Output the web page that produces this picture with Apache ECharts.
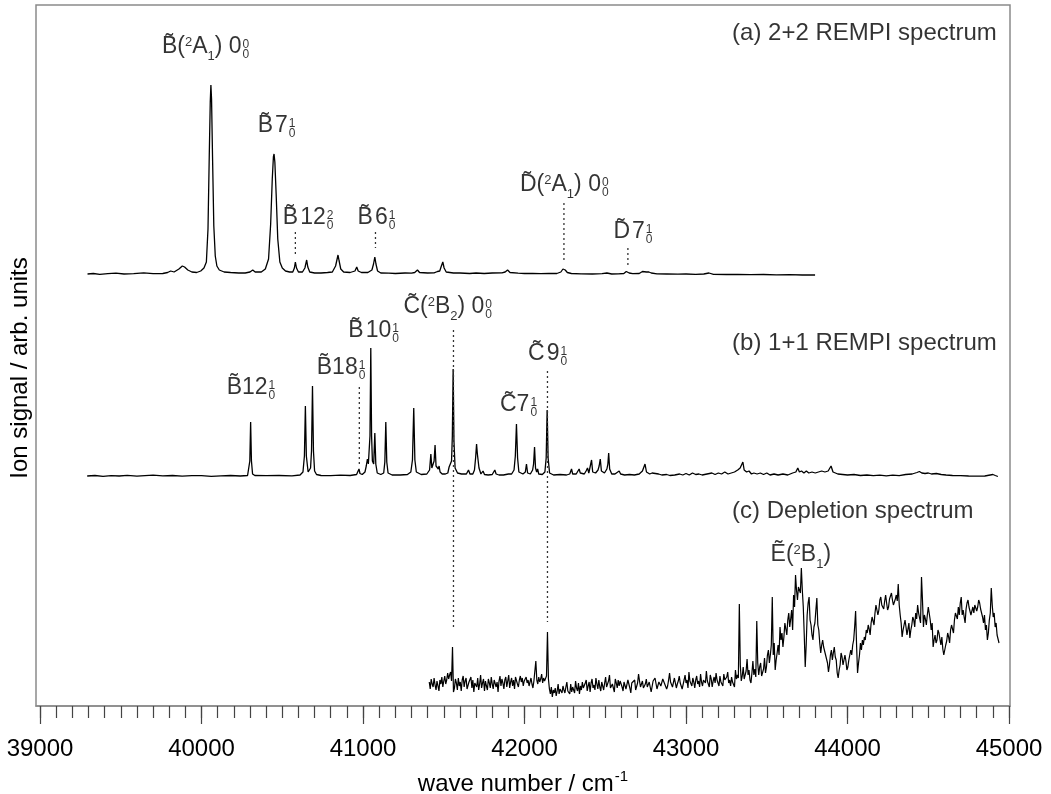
<!DOCTYPE html>
<html><head><meta charset="utf-8">
<script src="https://cdn.jsdelivr.net/npm/echarts@6/dist/echarts.min.js"></script>
<style>html,body{margin:0;padding:0;background:#fff}#c{width:1051px;height:794px}</style>
</head><body><div id="c"></div><script>
// ---------- tick labels ----------
const majorTicks = [39000, 40000, 41000, 42000, 43000, 44000, 45000];
const minorStep = 100;

// ---------- vertical offsets of the stacked spectra (arb. units) ----------
const aOffset = 432, bOffset = 230, cOffset = 21;

// ---------- (a) 2+2 REMPI spectrum : [wave number, signal] ----------
const aData = [
[39294,0],[39330,0.5],[39370,-0.3],[39420,0.3],[39470,0.8],[39520,0],[39580,0.3],[39642,1.2],[39700,0.3],[39760,0.5],
[39790,1.5],[39809,3],[39830,2],[39860,5],[39881,8],[39895,7],[39915,4],[39940,2],[39970,1.5],[39995,3],
[40015,6],[40030,12],[40040,45],[40048,120],[40054,172],[40058,189],[40062,175],[40068,118],[40076,48],[40085,18],
[40095,8],[40110,4],[40140,2],[40180,1.5],[40230,1],[40270,1],[40300,2],[40317,4],[40332,2],[40370,2],
[40395,5],[40415,15],[40428,50],[40438,95],[40445,117],[40449,120],[40454,112],[40462,80],[40472,35],[40485,12],
[40500,6],[40520,3],[40545,2],[40565,2],[40575,6],[40581,12],[40588,6],[40600,2],[40625,2],[40640,6],
[40651,14],[40658,7],[40670,2],[40700,1],[40740,1],[40780,1.5],[40810,2],[40830,8],[40845,19],[40852,13],
[40862,5],[40880,2],[40920,1.5],[40950,3],[40961,7],[40970,3],[40990,1.5],[41030,1.5],[41055,4],[41065,10],
[41073,17],[41080,10],[41090,3],[41110,1],[41160,0.8],[41200,0.5],[41260,1],[41300,0.8],[41320,1.5],[41337,4],
[41350,1.5],[41400,1],[41440,1.2],[41461,2.5],[41475,3],[41485,8],[41494,12],[41502,6],[41515,2],[41560,1],
[41600,1],[41660,0.5],[41700,1],[41750,0.5],[41800,1],[41860,1.2],[41880,2],[41895,4],[41910,1.5],[41960,0.8],
[42000,0.5],[42050,0.6],[42100,0.3],[42150,0.6],[42200,0.5],[42225,2],[42238,5],[42244,6],[42252,4],[42265,1.5],
[42290,0.5],[42350,0.2],[42420,0],[42480,0.3],[42510,1],[42540,0],[42580,0.2],[42615,0.5],[42630,2.5],[42638,3],
[42648,1],[42670,0.3],[42710,0.5],[42730,2.5],[42741,3.5],[42755,2],[42770,2],[42785,1],[42820,0.2],[42880,0],
[42950,-0.2],[43000,0],[43060,-0.4],[43110,0],[43142,1],[43170,-0.3],[43250,-0.5],[43320,-0.3],[43400,-0.6],[43480,-0.5],
[43560,-0.8],[43640,-0.7],[43720,-1],[43799,-1]
];

// ---------- (b) 1+1 REMPI spectrum : [wave number, signal] ----------
const bData = [
[39292,0],[39340,0.5],[39390,-0.3],[39440,0.4],[39490,0],[39540,0.6],[39600,-0.2],[39650,0.3],[39700,0.8],[39760,0.2],
[39820,0.5],[39880,-0.2],[39940,0.4],[40000,0.3],[40060,-0.3],[40120,0.2],[40180,0.5],[40240,0],[40285,0.5],
[40294,2],[40299,15],[40304,54],[40309,15],[40316,2],[40330,0.5],[40400,0.3],[40480,0.5],[40560,0.2],[40610,1],
[40628,4],[40637,20],[40643,70],[40649,20],[40660,4],[40666,3],[40675,8],[40681,25],[40687,90],[40693,25],
[40700,5],[40712,1.5],[40740,0.5],[40800,0.3],[40860,0.8],[40920,0.5],[40960,1.5],[40969,3],[40975,7],[40981,2.5],
[40995,1.5],[41012,4],[41020,10],[41027,17],[41033,12],[41038,10],[41043,40],[41048,128],[41053,40],[41058,15],
[41066,12],[41073,43],[41079,12],[41088,3],[41110,1.5],[41128,3],[41135,14],[41141,54],[41147,14],[41155,3],
[41180,1],[41230,1],[41275,1.5],[41296,4],[41306,16],[41314,68],[41321,16],[41330,4],[41360,1.5],[41395,2],
[41412,6],[41420,22],[41426,8],[41433,8],[41440,15],[41446,31],[41452,10],[41458,10],[41461,12],[41466,7],
[41471,10],[41477,4],[41490,2],[41510,2],[41525,3],[41533,9],[41540,8],[41548,15],[41553,40],[41558,107],
[41563,35],[41570,8],[41585,3],[41610,2],[41640,2],[41653,6],[41662,2],[41680,2],[41690,6],[41697,18],
[41703,32],[41708,22],[41713,22],[41718,8],[41730,2],[41743,5],[41752,1.5],[41775,1],[41800,1.5],[41816,6],
[41824,2],[41833,3],[41842,1],[41870,1],[41900,2],[41911,4],[41920,2],[41935,6],[41943,20],[41950,52],
[41957,18],[41965,4],[41990,2],[42005,4],[42012,12],[42019,3],[42029,5],[42036,2],[42050,6],[42056,12],
[42062,29],[42068,8],[42075,4],[42081,7],[42088,2],[42110,1.5],[42126,4],[42134,18],[42140,66],[42146,18],
[42155,3],[42180,1],[42220,1.5],[42260,1],[42280,2],[42291,7],[42298,2],[42320,2],[42330,4],[42338,7],
[42345,3],[42370,2],[42381,5],[42390,8],[42398,3],[42408,5],[42415,16],[42422,4],[42440,3],[42455,6],
[42462,10],[42469,17],[42476,5],[42495,3],[42510,7],[42516,12],[42521,23],[42527,7],[42540,2],[42560,2],
[42586,5],[42595,2],[42620,1],[42650,1.5],[42680,1],[42710,2],[42730,5],[42746,12],[42755,4],[42765,5],
[42775,2],[42790,3],[42800,1],[42830,2],[42850,1],[42880,1.5],[42900,0.5],[42930,1],[42960,2],[42980,1],
[43000,2.5],[43020,1],[43040,3],[43060,1.5],[43080,2],[43100,1],[43130,2],[43160,3],[43180,1.5],[43200,3],
[43220,2],[43240,4],[43260,2],[43280,3],[43300,4],[43320,6],[43335,8],[43344,9],[43352,14],[43360,6],
[43375,4],[43390,5],[43405,2],[43420,3],[43440,2],[43460,3],[43480,1.5],[43500,3],[43520,1],[43545,2],
[43570,1],[43600,2],[43630,1],[43660,3],[43680,4],[43692,8],[43702,4],[43715,5],[43730,3],[43745,5],
[43760,3],[43780,4],[43800,3],[43820,4],[43840,5],[43860,4],[43880,5],[43898,10],[43910,4],[43925,3],
[43940,2],[43970,1.5],[44000,1],[44040,1.5],[44080,0.5],[44120,1],[44160,0.3],[44200,0.8],[44240,0.2],[44280,0.8],
[44320,0.3],[44360,1.5],[44400,2],[44430,3.5],[44445,4.5],[44460,3],[44480,2.5],[44500,3],[44520,2],[44550,2.5],
[44580,1.5],[44610,1],[44650,0.5],[44700,0.3],[44750,0],[44800,-0.2],[44850,0],[44900,1.5],[44915,0.5],[44931,-0.5]
];

// ---------- (c) depletion spectrum : sampled every cStep cm-1 from cStart ----------
const cStart = 41410, cStep = 6;
const cValues = [
3,-4,6,1,-2,7,0,-5,4,2,-6,5,1,8,-2,4,9,1,5,12,
6,10,13,4,38,-7,-3,6,2,-5,7,-1,3,-6,5,9,-2,4,7,-4,
-6,3,1,8,-3,5,-7,2,4,-2,7,-5,1,10,-3,2,6,-6,4,-1,
-5,6,2,-3,8,1,-4,5,7,-2,3,-7,4,9,-1,6,2,-4,5,8,
-2,4,10,-3,3,7,-1,5,-4,8,6,1,-2,5,9,3,7,-1,4,6,
8,2,5,-1,3,7,1,-3,4,2,24,5,1,8,3,6,11,2,7,4,
5,9,53,6,-4,-9,-2,-12,-5,-8,-3,-11,-6,1,-9,-4,-2,-8,-1,-5,
-8,-2,3,-6,-4,-9,1,-7,-2,-5,-8,4,-3,-6,2,-9,-1,-5,3,-3,
-4,2,5,-6,-1,3,-7,2,6,-3,0,-5,7,1,-4,5,-2,-6,3,1,
-5,2,8,-2,-1,4,10,-3,-4,1,3,-7,6,2,-3,5,-1,4,6,-2,
-6,3,1,-4,-2,5,7,-3,-8,2,0,4,5,-5,-3,2,11,4,-2,1,
4,-3,-5,1,6,-2,-1,3,2,-7,-5,4,3,7,6,-4,-2,3,5,-1,
-3,6,8,1,2,-4,-1,5,12,3,4,-2,-2,7,6,-3,1,4,9,2,
3,-4,-2,5,10,2,5,-3,13,4,2,-1,7,3,-3,5,9,1,4,-2,
11,3,-1,5,7,2,14,4,3,-2,10,6,-2,4,8,2,12,5,4,-1,
9,3,2,-1,11,5,4,8,13,2,5,-1,8,3,2,-2,15,6,10,7,
81,20,4,9,18,6,8,14,26,10,15,5,2,12,24,10,16,8,64,22,
10,18,22,9,8,16,27,12,18,30,35,22,30,40,88,30,42,15,25,32,
40,30,58,45,52,38,48,62,60,50,65,72,58,66,75,55,90,78,110,95,
85,98,100,92,117,95,78,50,18,40,70,82,88,65,60,50,45,58,62,75,
87,60,55,42,32,40,45,38,38,30,30,22,13,20,30,35,25,32,38,28,
25,12,7,15,20,32,28,20,22,30,24,15,18,25,26,35,30,40,45,58,
74,40,12,22,30,42,35,45,40,48,45,55,52,60,56,50,62,68,70,60,
72,80,78,70,75,85,88,80,80,76,84,90,82,75,78,86,86,92,85,80,
80,86,90,84,101,80,70,62,48,55,55,65,58,50,52,62,47,55,60,68,
65,58,72,66,80,72,70,62,108,85,58,70,66,60,70,78,78,65,55,62,
38,45,50,42,45,55,52,46,40,48,36,30,32,40,44,52,48,42,55,60,
60,52,65,72,72,66,78,70,82,88,70,75,68,62,76,82,85,78,78,70,
70,78,72,80,80,74,78,85,82,76,72,68,62,70,55,60,45,52,65,72,
97,80,68,72,58,62,50,46,42
];

// ---------- dotted guide lines : [wave number, upper end, lower end] ----------
const guides = [
[40581,474,450],[41077,474,458],[42244,503,444],[42640,458,441],
[40977,319,241],[41560,376,77],[42142,335,84]
];

// ---------- band assignments ----------
const annoText = [
'{t|B\u0303(}{u|2}{t|A}{d|1}{t|) 0}',
'{t|B\u0303}{g|}{t|7}',
'{t|B\u0303}{g|}{t|12}',
'{t|B\u0303}{g|}{t|6}',
'{t|D\u0303(}{u|2}{t|A}{d|1}{t|) 0}',
'{t|D\u0303}{g|}{t|7}',
'{t|B\u030312}',
'{t|B\u030318}',
'{t|B\u0303}{g|}{t|10}',
'{t|C\u0303(}{u|2}{t|B}{d|2}{t|) 0}',
'{t|C\u03037}',
'{t|C\u0303}{g|}{t|9}',
'{t|\u1EBC(}{u|2}{t|B}{d|1}{t|)}'
];
const annoSup = ['0','1','2','1','0','1','1','1','1','0','1','1',''];
const annoSub = ['0','0','0','0','0','0','0','0','0','0','0','0',''];
const annoX = [40248,40534,40769,41153,42473,42745,40409,40967,41175,41751,42030,42216,43898];
const annoY = [659,580,488,488,521,474,318.5,338.5,375,399,301,352,151];

// ---------- panel titles ----------
const panelText = ['(a) 2+2 REMPI spectrum', '(b) 1+1 REMPI spectrum', '(c) Depletion spectrum'];
const panelX = [43285, 43285, 43285];
const panelY = [673, 362.5, 195];

// ---------- build ----------
const minorTicks = [];
for (let v = majorTicks[0]; v <= majorTicks[majorTicks.length - 1]; v += minorStep) minorTicks.push(v);

const aSeries = aData.map(p => [p[0], p[1] + aOffset]);
const bSeries = bData.map(p => [p[0], p[1] + bOffset]);
const cSeries = cValues.map((v, i) => [cStart + i * cStep, v + cOffset]);

const txtColor = '#000';
const FF = 'Liberation Sans';
const rich = {
  t: {fontSize: 23, lineHeight: 26, color: txtColor, fontFamily: FF},
  u: {fontSize: 13, lineHeight: 13, padding: [0, 0, 9, 0], color: txtColor, fontFamily: FF},
  d: {fontSize: 13, lineHeight: 13, padding: [18, 0, 0, 0], color: txtColor, fontFamily: FF},
  g: {width: 2}
};

const lineStyle = {color: '#000', width: 1.3};
const series = [
  {type: 'line', data: aSeries, showSymbol: false, lineStyle, silent: true},
  {type: 'line', data: bSeries, showSymbol: false, lineStyle, silent: true},
  {type: 'line', data: cSeries, showSymbol: false, lineStyle: {color: '#000', width: 1.2}, silent: true}
];
guides.forEach(g => {
  series.push({type: 'line', data: [[g[0], g[1]], [g[0], g[2]]], showSymbol: false, silent: true,
    lineStyle: {color: '#333', width: 1.3, type: [2, 3]}});
});
series.push({
  type: 'scatter', symbolSize: 0, silent: true,
  data: annoText.map((t, i) => ({value: [annoX[i], annoY[i]], label: {formatter: t}})),
  label: {show: true, position: [0, 0], align: 'right', verticalAlign: 'middle', rich}
});
series.push({
  type: 'scatter', symbolSize: 0, silent: true,
  data: annoSup.map((s, i) => ({value: [annoX[i], annoY[i]], label: {formatter: s ? s + '\n' + annoSub[i] : ''}})),
  label: {show: true, position: [1, 3], align: 'left', verticalAlign: 'middle',
    fontSize: 12, lineHeight: 10, color: txtColor, fontFamily: FF}
});
series.push({
  type: 'scatter', symbolSize: 0, silent: true,
  data: panelText.map((t, i) => ({value: [panelX[i], panelY[i]], label: {formatter: t}})),
  label: {show: true, position: [0, 0], align: 'left', verticalAlign: 'middle',
    fontSize: 24, color: txtColor, fontFamily: FF}
});

const chart = echarts.init(document.getElementById('c'), null, {renderer: 'canvas'});
chart.setOption({
  animation: false,
  backgroundColor: '#fff',
  grid: {left: 36, right: 41, top: 5, bottom: 88, show: true, borderColor: '#8a8a8a', borderWidth: 1.5,
    containLabel: false, outerBoundsMode: 'none'},
  xAxis: [{
    type: 'value', min: 38975, max: 45006, position: 'bottom',
    name: '{n|wave number / cm}{s|-1}', nameLocation: 'middle', nameGap: 63,
    nameTextStyle: {rich: {
      n: {fontSize: 24, color: txtColor, fontFamily: FF, lineHeight: 28},
      s: {fontSize: 15, color: txtColor, fontFamily: FF, padding: [0, 0, 16, 1]}
    }},
    axisLine: {show: true, lineStyle: {color: '#8a8a8a', width: 1.5}},
    axisTick: {show: true, inside: false, length: 18, customValues: majorTicks, lineStyle: {color: '#444', width: 1.2}},
    axisLabel: {show: true, customValues: majorTicks, margin: 31, fontSize: 24, color: txtColor, fontFamily: FF,
      formatter: v => String(v)},
    splitLine: {show: false}
  }, {
    type: 'value', min: 38975, max: 45006, position: 'bottom',
    axisLine: {show: false},
    axisTick: {show: true, inside: false, length: 12, customValues: minorTicks, lineStyle: {color: '#444', width: 1.2}},
    axisLabel: {show: false},
    splitLine: {show: false}
  }],
  yAxis: {
    type: 'value', min: 0, max: 701,
    name: 'Ion signal / arb. units', nameLocation: 'middle', nameGap: 4,
    nameTextStyle: {fontSize: 24, color: txtColor, fontFamily: FF, padding: [0, 25, 0, 0]},
    axisLine: {show: false}, axisTick: {show: false}, axisLabel: {show: false}, splitLine: {show: false}
  },
  series
});
</script></body></html>
